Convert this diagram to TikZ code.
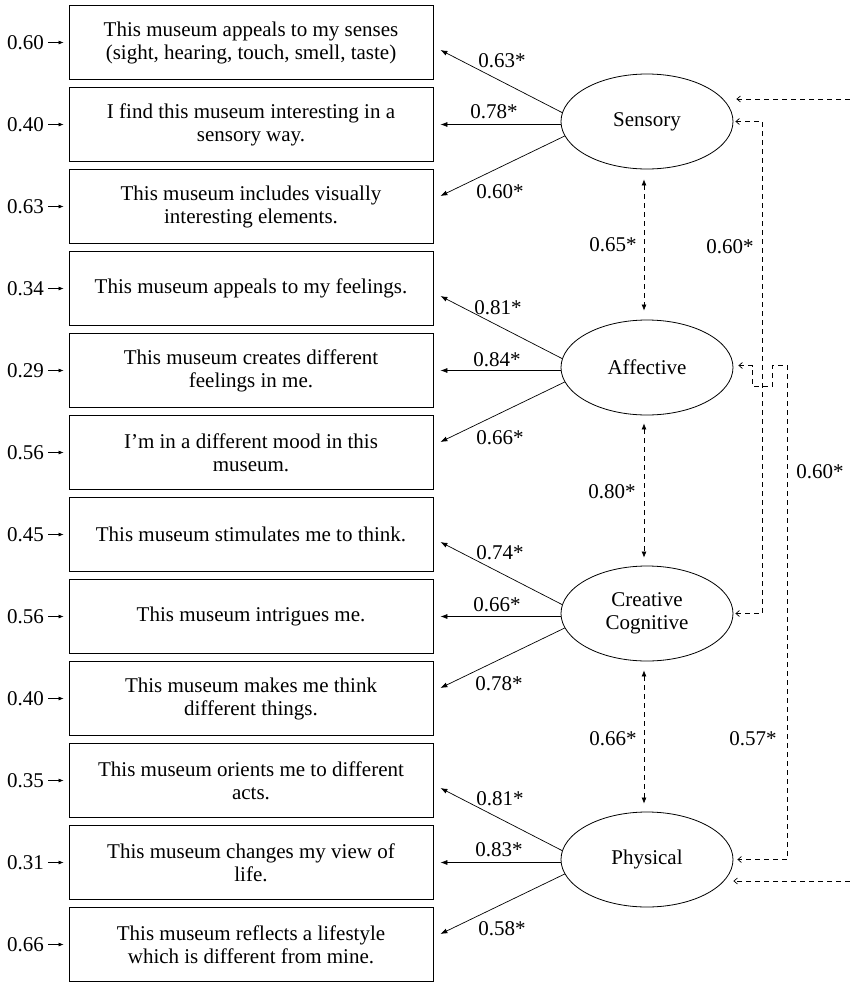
\documentclass[tikz,border=0pt]{standalone}
\usepackage{fontspec}
\setmainfont{Liberation Serif}
\usetikzlibrary{arrows.meta,shapes.geometric,calc}
\begin{document}
\begin{tikzpicture}[x=1pt,y=-1pt,
  every node/.style={font=\fontsize{21}{23}\selectfont, inner sep=0pt},
  item/.style={draw, line width=0.8pt, minimum width=364pt, minimum height=74.5pt, align=center},
  lat/.style={draw, ellipse, line width=0.8pt, minimum width=172pt, minimum height=95pt, align=center},
  load/.style={line width=0.7pt, -{Latex[length=7pt,width=5pt]}},
  err/.style={line width=0.7pt, -{Latex[length=5pt,width=4pt]}, shorten <=4pt, shorten >=5pt},
  cov/.style={line width=0.7pt, dash pattern=on 5pt off 4pt, {Latex[length=6pt,width=5pt]}-{Latex[length=6pt,width=5pt]}},
  corr/.style={line width=0.7pt, dash pattern=on 5pt off 4pt},
  barb2/.style={{Straight Barb[length=3.5pt,width=6pt]}-{Straight Barb[length=3.5pt,width=6pt]}},
  barb1/.style={-{Straight Barb[length=3.5pt,width=6pt]}}
]
\useasboundingbox (0,0) rectangle (850,983);

% indicator boxes
\node[item] (b1) at (251,42.5) {This museum appeals to my senses\\(sight, hearing, touch, smell, taste)};
\node[item] (b2) at (251,124.5) {I find this museum interesting in a\\sensory way.};
\node[item] (b3) at (251,206.5) {This museum includes visually\\interesting elements.};
\node[item] (b4) at (251,288.5) {This museum appeals to my feelings.};
\node[item] (b5) at (251,370.5) {This museum creates different\\feelings in me.};
\node[item] (b6) at (251,452.5) {I’m in a different mood in this\\museum.};
\node[item] (b7) at (251,534.5) {This museum stimulates me to think.};
\node[item] (b8) at (251,616.5) {This museum intrigues me.};
\node[item] (b9) at (251,698.5) {This museum makes me think\\different things.};
\node[item] (b10) at (251,780.5) {This museum orients me to different\\acts.};
\node[item] (b11) at (251,862.5) {This museum changes my view of\\life.};
\node[item] (b12) at (251,944.5) {This museum reflects a lifestyle\\which is different from mine.};

% error terms
\node[anchor=east] (e1) at (44,42.5) {0.60};
\node[anchor=east] (e2) at (44,124.5) {0.40};
\node[anchor=east] (e3) at (44,206.5) {0.63};
\node[anchor=east] (e4) at (44,288.5) {0.34};
\node[anchor=east] (e5) at (44,370.5) {0.29};
\node[anchor=east] (e6) at (44,452.5) {0.56};
\node[anchor=east] (e7) at (44,534.5) {0.45};
\node[anchor=east] (e8) at (44,616.5) {0.56};
\node[anchor=east] (e9) at (44,698.5) {0.40};
\node[anchor=east] (e10) at (44,780.5) {0.35};
\node[anchor=east] (e11) at (44,862.5) {0.31};
\node[anchor=east] (e12) at (44,944.5) {0.66};
\foreach \i in {1,...,12} { \draw[err] (e\i) -- (b\i); }

% latent variables
\node[lat] (sens) at (647,121.5) {Sensory};
\node[lat] (aff) at (647,367.5) {Affective};
\node[lat] (crea) at (647,613.5) {Creative\\Cognitive};
\node[lat] (phys) at (647,859.5) {Physical};

% loadings
\draw[load] (sens.174) -- ($(b1.east)+(7,7.5)$);
\draw[load] (sens.west |- b2.east) -- ($(b2.east)+(7,0)$);
\draw[load] (sens.190) -- ($(b3.east)+(7,-10.5)$);
\draw[load] (aff.174) -- ($(b4.east)+(7,7.5)$);
\draw[load] (aff.west |- b5.east) -- ($(b5.east)+(7,0)$);
\draw[load] (aff.190) -- ($(b6.east)+(7,-10.5)$);
\draw[load] (crea.174) -- ($(b7.east)+(7,7.5)$);
\draw[load] (crea.west |- b8.east) -- ($(b8.east)+(7,0)$);
\draw[load] (crea.190) -- ($(b9.east)+(7,-10.5)$);
\draw[load] (phys.174) -- ($(b10.east)+(7,7.5)$);
\draw[load] (phys.west |- b11.east) -- ($(b11.east)+(7,0)$);
\draw[load] (phys.190) -- ($(b12.east)+(7,-10.5)$);

\node (l1) at (502,60.5) {0.63*};
\node (l2) at (494,112) {0.78*};
\node (l3) at (500,191.5) {0.60*};
\node (l4) at (498,307.5) {0.81*};
\node (l5) at (497,359.5) {0.84*};
\node (l6) at (500,437.5) {0.66*};
\node (l7) at (500,552.5) {0.74*};
\node (l8) at (497,604.5) {0.66*};
\node (l9) at (499,684) {0.78*};
\node (l10) at (500,799) {0.81*};
\node (l11) at (499,849.5) {0.83*};
\node (l12) at (502,929) {0.58*};

% correlations between adjacent factors
\draw[cov, shorten <=10pt, shorten >=9pt] ([xshift=-3pt]sens.south) -- ([xshift=-3pt]aff.north);
\draw[cov, shorten <=8pt, shorten >=8pt] ([xshift=-3pt]aff.south) -- ([xshift=-3pt]crea.north);
\draw[cov, shorten <=9pt, shorten >=8pt] ([xshift=-3pt]crea.south) -- ([xshift=-3pt]phys.north);
\node (c1) at (613,245) {0.65*};
\node (c2) at (612,492) {0.80*};
\node (c3) at (613,739) {0.66*};

% long-range correlations
\coordinate (rt) at (850,99);
\coordinate (rb) at (850,881);
\draw[corr, barb1, shorten >=3pt] (rt) -- (rt -| sens.east);
\draw[corr, barb1] (rb) -- (rb -| phys.east);
\draw[corr, barb2, shorten <=2pt, shorten >=2pt] (sens.east) -- ++(29,0) |- (crea.east);
\draw[corr, barb2, shorten <=5pt, shorten >=4pt] ([yshift=2pt]aff.east) -- ++(19,0) -- ++(0,21) -- ++(20,0) -- ++(0,-21) -- ++(15,0) |- (phys.east);
\node (c4) at (730,247) {0.60*};
\node (c5) at (820,472) {0.60*};
\node (c6) at (753,739) {0.57*};
\end{tikzpicture}
\end{document}
